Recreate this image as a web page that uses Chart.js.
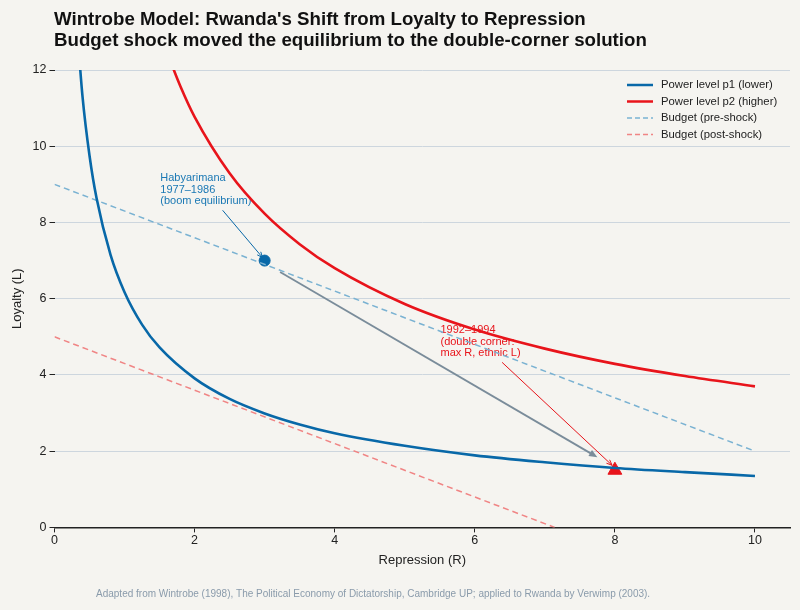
<!DOCTYPE html>
<html>
<head>
<meta charset="utf-8">
<script src="https://cdn.jsdelivr.net/npm/chart.js@4.4.1/dist/chart.umd.min.js"></script>
<style>
  html, body { margin: 0; padding: 0; background: #f5f4f0; }
  #wrap { width: 800px; height: 610px; position: relative; }
</style>
</head>
<body>
<div id="wrap"><canvas id="chart"></canvas></div>
<script>
// indifference curves
const p1R = [0.3, 0.4, 0.5, 0.6, 0.8, 1, 1.25, 1.5, 2, 2.5, 3, 3.5, 4, 5, 6, 7, 8, 9, 10];
const p1L = [13.66, 11.30, 9.75, 8.64, 7.15, 6.17, 5.32, 4.72, 3.91, 3.37, 2.99, 2.70, 2.47, 2.14, 1.89, 1.71, 1.56, 1.45, 1.35];
const p2R = [1.6, 1.8, 2, 2.5, 3, 3.5, 4, 5, 6, 7, 8, 9, 10];
const p2L = [12.49, 11.56, 10.77, 9.29, 8.23, 7.43, 6.80, 5.86, 5.19, 4.69, 4.29, 3.97, 3.70];

// budget lines
const preR = [0, 10];
const preL = [9, 2];
const postR = [0, 7.14];
const postL = [5, 0];

// equilibria
const boomPoint = { x: 3, y: 7 };
const cornerPoint = { x: 8, y: 1.5 };

// tick labels
const xTicks = [0, 2, 4, 6, 8, 10];
const yTicks = [0, 2, 4, 6, 8, 10, 12];

// shift arrow and annotations
const shiftFrom = { x: 3.22, y: 6.70 };
const shiftTo = { x: 7.75, y: 1.84 };
const boomText = ['Habyarimana', '1977\u20131986', '(boom equilibrium)'];
const boomTextAt = { x: 1.51, y: 9.3 };
const boomArrowFrom = { x: 2.40, y: 8.32 };
const boomArrowTo = { x: 2.97, y: 7.08 };
const cornerText = ['1992\u20131994', '(double corner:', 'max R, ethnic L)'];
const cornerTextAt = { x: 5.51, y: 5.32 };
const cornerArrowFrom = { x: 6.39, y: 4.33 };
const cornerArrowTo = { x: 7.96, y: 1.63 };

const legendLabels = ['Power level p1 (lower)', 'Power level p2 (higher)', 'Budget (pre-shock)', 'Budget (post-shock)'];

const BLUE = '#0868a8';
const RED = '#e8141b';
const LBLUE = '#7ab2d2';
const LRED = '#f08585';
const FONT = '"Liberation Sans", Arial, sans-serif';

const pts = (xs, ys) => xs.map((x, i) => ({ x: x, y: ys[i] }));

function arrow(ctx, x1, y1, x2, y2, color, width, head, filled) {
  const a = Math.atan2(y2 - y1, x2 - x1);
  ctx.save();
  ctx.strokeStyle = color;
  ctx.fillStyle = color;
  ctx.lineWidth = width;
  ctx.beginPath();
  ctx.moveTo(x1, y1);
  ctx.lineTo(x2 - Math.cos(a) * (filled ? head * 0.8 : 0), y2 - Math.sin(a) * (filled ? head * 0.8 : 0));
  ctx.stroke();
  ctx.beginPath();
  ctx.moveTo(x2, y2);
  ctx.lineTo(x2 - head * Math.cos(a - 0.4), y2 - head * Math.sin(a - 0.4));
  if (filled) {
    ctx.lineTo(x2 - head * Math.cos(a + 0.4), y2 - head * Math.sin(a + 0.4));
    ctx.closePath();
    ctx.fill();
  } else {
    ctx.moveTo(x2, y2);
    ctx.lineTo(x2 - head * Math.cos(a + 0.4), y2 - head * Math.sin(a + 0.4));
    ctx.stroke();
  }
  ctx.restore();
}

const annotations = {
  id: 'annotations',
  beforeDatasetsDraw(chart) {
    const { ctx, scales: { x, y } } = chart;
    ctx.save();
    ctx.font = '11px ' + FONT;
    ctx.textBaseline = 'top';
    ctx.fillStyle = '#1a78b4';
    boomText.forEach((t, i) => ctx.fillText(t, x.getPixelForValue(boomTextAt.x), y.getPixelForValue(boomTextAt.y) + i * 11.5));
    ctx.fillStyle = RED;
    cornerText.forEach((t, i) => ctx.fillText(t, x.getPixelForValue(cornerTextAt.x), y.getPixelForValue(cornerTextAt.y) + i * 11.5));
    ctx.restore();
    arrow(ctx, x.getPixelForValue(shiftFrom.x), y.getPixelForValue(shiftFrom.y),
      x.getPixelForValue(shiftTo.x), y.getPixelForValue(shiftTo.y), '#7a8c9a', 1.8, 9, true);
  },
  afterDatasetsDraw(chart) {
    const { ctx, scales: { x, y } } = chart;
    arrow(ctx, x.getPixelForValue(boomArrowFrom.x), y.getPixelForValue(boomArrowFrom.y),
      x.getPixelForValue(boomArrowTo.x), y.getPixelForValue(boomArrowTo.y), BLUE, 1, 6, false);
    arrow(ctx, x.getPixelForValue(cornerArrowFrom.x), y.getPixelForValue(cornerArrowFrom.y),
      x.getPixelForValue(cornerArrowTo.x), y.getPixelForValue(cornerArrowTo.y), RED, 1, 6, false);
  }
};

// title, legend and source note
const decorations = {
  id: 'decorations',
  afterDraw(chart) {
    const { ctx } = chart;
    ctx.save();
    ctx.fillStyle = '#111';
    ctx.font = 'bold 18.7px ' + FONT;
    ctx.textBaseline = 'alphabetic';
    ctx.fillText("Wintrobe Model: Rwanda's Shift from Loyalty to Repression", 54, 25);
    ctx.fillText('Budget shock moved the equilibrium to the double-corner solution', 54, 46);

    const styles = [
      { c: BLUE, w: 2.5, d: [] },
      { c: RED, w: 2.5, d: [] },
      { c: LBLUE, w: 1.5, d: [5, 3] },
      { c: LRED, w: 1.5, d: [5, 3] }
    ];
    ctx.font = '11.3px ' + FONT;
    ctx.textBaseline = 'middle';
    legendLabels.forEach((lab, i) => {
      const yy = 85 + i * 16.5;
      ctx.beginPath();
      ctx.strokeStyle = styles[i].c;
      ctx.lineWidth = styles[i].w;
      ctx.setLineDash(styles[i].d);
      ctx.moveTo(627, yy);
      ctx.lineTo(653, yy);
      ctx.stroke();
      ctx.setLineDash([]);
      ctx.fillStyle = '#222';
      ctx.fillText(lab, 661, yy);
    });

    ctx.font = '10px ' + FONT;
    ctx.fillStyle = '#8a9bab';
    ctx.textBaseline = 'alphabetic';
    ctx.fillText('Adapted from Wintrobe (1998), The Political Economy of Dictatorship, Cambridge UP; applied to Rwanda by Verwimp (2003).', 96, 597);
    ctx.restore();
  }
};

const bg = {
  id: 'bg',
  beforeDraw(chart) {
    const { ctx } = chart;
    ctx.save();
    ctx.fillStyle = '#f5f4f0';
    ctx.fillRect(0, 0, chart.width, chart.height);
    ctx.restore();
  }
};

new Chart(document.getElementById('chart'), {
  type: 'scatter',
  data: {
    datasets: [
      { label: legendLabels[0], data: pts(p1R, p1L), showLine: true, borderColor: BLUE, borderWidth: 2.6,
        pointRadius: 0, cubicInterpolationMode: 'monotone' },
      { label: legendLabels[1], data: pts(p2R, p2L), showLine: true, borderColor: RED, borderWidth: 2.6,
        pointRadius: 0, cubicInterpolationMode: 'monotone' },
      { label: legendLabels[2], data: pts(preR, preL), showLine: true, borderColor: LBLUE, borderWidth: 1.5,
        borderDash: [6, 4], pointRadius: 0 },
      { label: legendLabels[3], data: pts(postR, postL), showLine: true, borderColor: LRED, borderWidth: 1.5,
        borderDash: [6, 4], pointRadius: 0 },
      { label: 'Boom equilibrium', data: [boomPoint], backgroundColor: BLUE, borderColor: BLUE,
        pointRadius: 5.5, pointStyle: 'circle' },
      { label: 'Double corner', data: [cornerPoint], backgroundColor: RED, borderColor: RED,
        pointRadius: 8, pointStyle: 'triangle' }
    ]
  },
  options: {
    responsive: true,
    maintainAspectRatio: false,
    animation: false,
    layout: { padding: { top: 70, right: 10, bottom: 42, left: 6 } },
    plugins: {
      legend: { display: false },
      tooltip: { enabled: false }
    },
    scales: {
      x: {
        type: 'linear', min: 0, max: 10.5,
        afterBuildTicks: s => { s.ticks = xTicks.map(v => ({ value: v })); },
        ticks: { color: '#222', padding: 1, font: { family: FONT, size: 12.5 } },
        grid: { drawOnChartArea: false, drawTicks: true, tickLength: 5, tickColor: '#222' },
        border: { color: '#222', width: 1.5 },
        title: { display: true, text: 'Repression (R)', color: '#222', font: { family: FONT, size: 13 }, padding: { top: 3, bottom: 0 } }
      },
      y: {
        min: 0, max: 12,
        afterBuildTicks: s => { s.ticks = yTicks.map(v => ({ value: v })); },
        ticks: { color: '#222', font: { family: FONT, size: 12.5 } },
        grid: { color: '#cdd6de', lineWidth: 1, tickColor: '#222', tickLength: 5 },
        border: { display: false },
        title: { display: true, text: 'Loyalty (L)', color: '#222', font: { family: FONT, size: 13 } }
      }
    }
  },
  plugins: [bg, annotations, decorations]
});
</script>
</body>
</html>
